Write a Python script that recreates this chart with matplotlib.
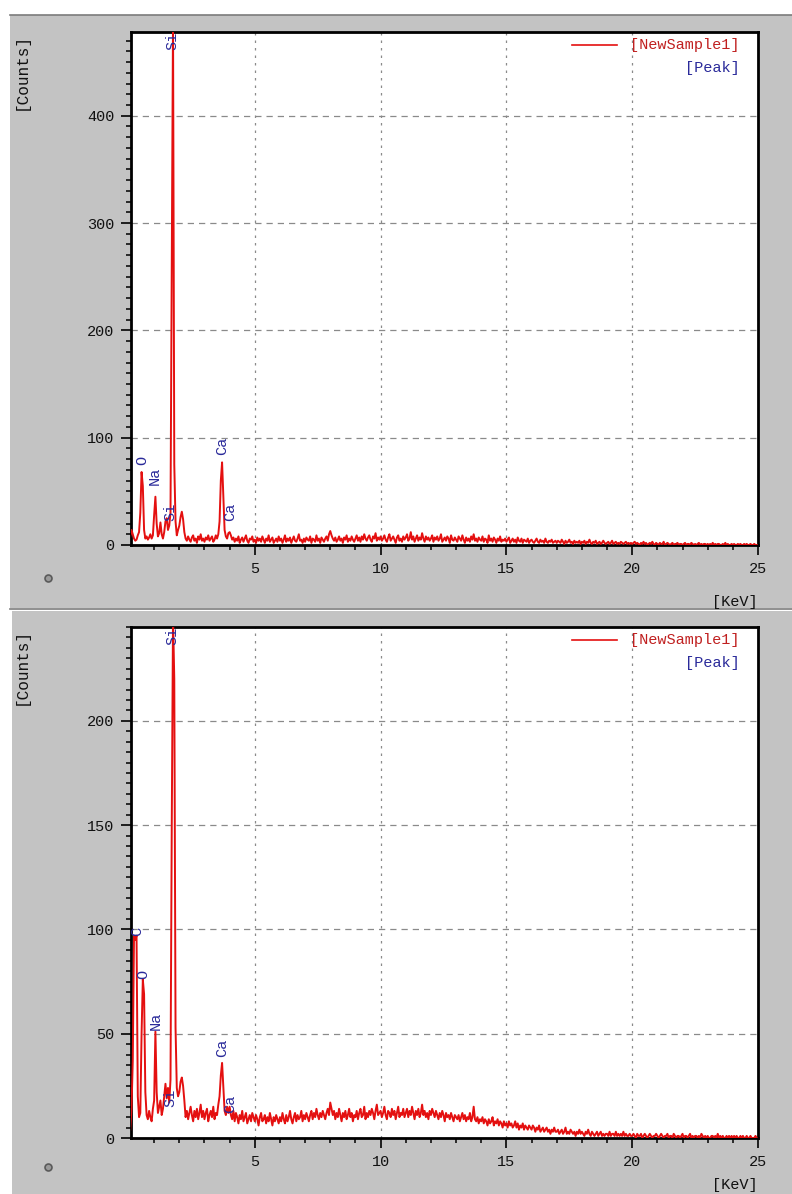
import numpy as np
import matplotlib
matplotlib.use("Agg")
import matplotlib.pyplot as plt
from matplotlib.patches import Rectangle
from matplotlib.lines import Line2D
from matplotlib.ticker import MultipleLocator

plt.rcParams['font.family'] = ['Liberation Mono', 'DejaVu Sans Mono']

CHANNEL_KEV = 0.05

# counts per 0.05 keV channel, one row per keV
top_counts = [
    0, 8, 14, 10, 6, 4, 5, 9, 12, 30, 68, 55, 14, 6, 8, 5, 7, 10, 6, 9,
    28, 45, 20, 8, 11, 21, 10, 6, 12, 22, 25, 14, 18, 30, 270, 490, 75, 22, 9, 14,
    18, 26, 31, 24, 12, 6, 4, 8, 5, 3, 7, 9, 4, 6, 2, 8, 5, 10, 4, 6,
    3, 7, 5, 9, 4, 6, 8, 3, 5, 9, 6, 10, 22, 60, 77, 45, 14, 8, 6, 11,
    12, 9, 5, 7, 3, 6, 4, 8, 2, 5, 7, 3, 6, 9, 4, 2, 6, 5, 8, 3,
    5, 2, 7, 4, 6, 3, 8, 5, 2, 6, 4, 9, 3, 5, 7, 2, 4, 6, 3, 8,
    4, 6, 2, 5, 9, 3, 6, 4, 7, 2, 5, 8, 4, 3, 6, 10, 4, 5, 2, 6,
    3, 7, 5, 4, 8, 2, 6, 5, 3, 9, 4, 6, 2, 7, 5, 3, 6, 8, 4, 10,
    13, 9, 6, 4, 7, 3, 5, 8, 4, 6, 2, 7, 5, 9, 3, 6, 4, 8, 5, 3,
    6, 9, 4, 7, 3, 8, 5, 10, 6, 4, 7, 9, 5, 3, 8, 6, 11, 4, 7, 5,
    8, 4, 6, 9, 5, 3, 7, 10, 4, 6, 8, 5, 2, 7, 9, 4, 6, 3, 8, 5,
    7, 10, 4, 6, 12, 5, 8, 3, 6, 9, 4, 7, 5, 11, 6, 3, 8, 5, 7, 4,
    6, 9, 3, 7, 5, 8, 4, 6, 10, 3, 5, 7, 4, 8, 6, 2, 9, 5, 4, 7,
    5, 3, 8, 6, 4, 9, 5, 2, 7, 4, 6, 3, 8, 5, 10, 4, 6, 3, 7, 5,
    4, 8, 3, 6, 5, 2, 9, 4, 6, 3, 7, 5, 2, 6, 4, 8, 3, 5, 4, 6,
    3, 5, 7, 2, 4, 6, 3, 5, 2, 7, 4, 3, 6, 2, 5, 4, 3, 6, 2, 4,
    5, 3, 2, 4, 6, 3, 2, 5, 3, 4, 2, 6, 3, 2, 4, 3, 5, 2, 3, 4,
    2, 4, 3, 2, 5, 3, 1, 4, 2, 3, 5, 2, 3, 1, 4, 2, 3, 2, 4, 1,
    3, 2, 4, 1, 3, 2, 5, 2, 1, 3, 2, 4, 1, 2, 3, 1, 2, 4, 2, 1,
    2, 3, 1, 2, 4, 1, 2, 3, 1, 2, 1, 3, 2, 1, 2, 3, 1, 2, 1, 2,
    1, 2, 3, 1, 2, 1, 0, 2, 1, 3, 1, 2, 0, 1, 2, 1, 3, 1, 0, 2,
    1, 0, 2, 1, 1, 3, 0, 1, 2, 1, 0, 1, 2, 0, 1, 1, 2, 0, 1, 1,
    0, 1, 2, 0, 1, 1, 0, 2, 1, 0, 1, 0, 1, 2, 0, 1, 0, 1, 1, 0,
    1, 0, 1, 0, 2, 0, 1, 0, 1, 1, 0, 0, 1, 0, 2, 0, 1, 0, 0, 1,
    0, 1, 0, 0, 1, 0, 1, 0, 0, 1, 0, 1, 0, 0, 1, 0, 0, 1, 0, 0,
]

bottom_counts = [
    0, 4, 14, 37, 97, 95, 97, 20, 10, 12, 50, 76, 69, 22, 11, 9, 13, 10, 8, 14,
    18, 51, 22, 12, 15, 18, 11, 14, 20, 26, 19, 24, 17, 28, 150, 250, 220, 53, 24, 20,
    22, 27, 29, 25, 18, 10, 13, 9, 12, 15, 11, 8, 13, 10, 14, 9, 12, 16, 10, 13,
    9, 12, 14, 8, 11, 13, 10, 15, 9, 12, 11, 16, 20, 30, 36, 24, 13, 11, 15, 12,
    15, 11, 9, 13, 8, 12, 10, 7, 11, 9, 13, 8, 10, 12, 7, 9, 11, 8, 12, 10,
    8, 11, 9, 6, 10, 12, 8, 9, 11, 7, 10, 8, 12, 9, 6, 10, 8, 11, 9, 7,
    10, 8, 12, 9, 7, 11, 8, 10, 13, 9, 7, 10, 12, 8, 11, 9, 10, 13, 8, 11,
    9, 12, 10, 8, 11, 13, 9, 12, 10, 14, 11, 9, 12, 10, 13, 11, 9, 12, 14, 11,
    17, 14, 11, 13, 9, 12, 10, 14, 11, 8, 12, 10, 13, 9, 11, 14, 10, 12, 8, 11,
    10, 13, 9, 12, 14, 10, 11, 15, 9, 12, 10, 13, 11, 14, 12, 9, 13, 16, 11, 12,
    13, 10, 12, 15, 11, 9, 13, 12, 10, 14, 11, 13, 9, 12, 15, 10, 12, 11, 14, 10,
    12, 14, 10, 13, 11, 15, 12, 9, 13, 11, 14, 10, 12, 16, 11, 13, 10, 12, 9, 13,
    11, 14, 12, 10, 13, 11, 9, 12, 10, 13, 11, 8, 12, 10, 11, 9, 12, 10, 8, 11,
    10, 9, 11, 8, 10, 12, 9, 11, 8, 10, 9, 12, 8, 10, 15, 9, 8, 10, 7, 9,
    8, 10, 7, 9, 8, 6, 9, 7, 8, 10, 6, 8, 7, 9, 6, 8, 7, 5, 8, 6,
    7, 5, 8, 6, 7, 5, 6, 8, 5, 7, 4, 6, 5, 7, 4, 6, 5, 4, 6, 5,
    4, 6, 5, 3, 5, 4, 6, 3, 4, 5, 3, 4, 5, 3, 4, 2, 4, 3, 5, 3,
    3, 4, 2, 3, 4, 2, 3, 5, 2, 3, 2, 4, 3, 2, 3, 1, 3, 2, 4, 2,
    3, 2, 1, 3, 2, 4, 2, 1, 3, 2, 1, 2, 3, 1, 2, 3, 1, 2, 1, 2,
    2, 1, 3, 1, 2, 2, 1, 3, 1, 2, 1, 2, 1, 3, 1, 2, 1, 1, 2, 1,
    1, 2, 1, 0, 2, 1, 1, 2, 0, 1, 2, 1, 0, 1, 2, 1, 0, 1, 1, 2,
    1, 0, 1, 2, 1, 0, 1, 1, 2, 0, 1, 1, 0, 2, 1, 0, 1, 1, 0, 1,
    2, 0, 1, 1, 0, 1, 2, 0, 1, 0, 1, 1, 0, 1, 0, 2, 1, 0, 1, 0,
    1, 0, 0, 1, 1, 0, 1, 0, 2, 0, 1, 0, 1, 0, 0, 1, 0, 1, 0, 1,
    0, 1, 0, 1, 0, 0, 1, 0, 1, 0, 0, 1, 0, 0, 1, 0, 0, 0, 1, 0,
]

# peak markers: element, energy (keV), label base (counts); None = pinned to top
top_peaks = ['O', 'Na', 'Si', 'Si', 'Ca', 'Ca']
top_peak_kev = [0.52, 1.04, 1.73, 1.66, 3.69, 4.01]
top_peak_y = [75, 56, None, 22, 84, 22]

bottom_peaks = ['C', 'O', 'Na', 'Si', 'Si', 'Ca', 'Ca']
bottom_peak_kev = [0.33, 0.55, 1.06, 1.73, 1.66, 3.69, 4.01]
bottom_peak_y = [97, 76, 52, None, 15, 39, 12]

W, H = 792, 1194
FS = 11
PANEL = '#c3c3c3'
RED = '#e41010'
BLUE = '#2a2a9a'


def fx(px):
    return px / W


def fy(py):
    return 1 - py / H


fig = plt.figure(figsize=(W / 100, H / 100), dpi=100, facecolor='white')

# grey window frames behind each chart
fig.patches.append(Rectangle((fx(10), fy(608)), 1 - fx(10), fy(15) - fy(608),
                             transform=fig.transFigure, facecolor=PANEL, edgecolor='none', zorder=-5))
fig.patches.append(Rectangle((fx(12), 0), 1 - fx(12), fy(611),
                             transform=fig.transFigure, facecolor=PANEL, edgecolor='none', zorder=-5))
for yline in (15, 609):
    fig.add_artist(Line2D([fx(10), 1], [fy(yline), fy(yline)], transform=fig.transFigure,
                          color='#7c7c7c', lw=1.2, zorder=-4))


def draw_panel(top_px, bottom_px, counts, ymax, ystep, yminor, names, kevs, label_y):
    ax = fig.add_axes([fx(131), fy(bottom_px), fx(758) - fx(131), fy(top_px) - fy(bottom_px)])
    ax.set_zorder(2)
    energy = np.arange(len(counts)) * CHANNEL_KEV
    ax.plot(energy, counts, color=RED, lw=1.4, zorder=3)
    ax.set_xlim(0.08, 25)
    ax.set_ylim(0, ymax)

    ax.xaxis.set_major_locator(MultipleLocator(5))
    ax.xaxis.set_minor_locator(MultipleLocator(1))
    ax.yaxis.set_major_locator(MultipleLocator(ystep))
    ax.yaxis.set_minor_locator(MultipleLocator(yminor))
    ax.tick_params(which='major', direction='out', length=7, width=1.3, pad=5,
                   labelsize=FS, colors='#111111')
    ax.tick_params(which='minor', direction='out', length=3.5, width=1.1)
    for s in ax.spines.values():
        s.set_linewidth(2)
        s.set_color('black')

    ax.grid(which='major', axis='y', color='#8a8a8a', lw=0.9, ls=(0, (5, 4)))
    ax.grid(which='major', axis='x', color='#8a8a8a', lw=0.9, ls=(0, (2, 4)))
    ax.set_axisbelow(True)

    for name, kev, yb in zip(names, kevs, label_y):
        if yb is None:
            ax.text(kev, ymax, name, rotation=90, ha='center', va='top',
                    color=BLUE, fontsize=FS, zorder=4)
        else:
            ax.text(kev, yb, name, rotation=90, ha='center', va='bottom',
                    color=BLUE, fontsize=FS, zorder=4)

    # legend block
    ax.add_line(Line2D([0.703, 0.775], [0.975, 0.975], transform=ax.transAxes,
                       color=RED, lw=1.2))
    ax.text(0.971, 0.975, '[NewSample1]', transform=ax.transAxes, ha='right',
            va='center', color='#c02020', fontsize=FS)
    ax.text(0.971, 0.93, '[Peak]', transform=ax.transAxes, ha='right',
            va='center', color=BLUE, fontsize=FS)

    fig.text(fx(21), fy(top_px + 1), '[Counts]', rotation=90, ha='center', va='top',
             fontsize=FS + 0.5, color='#111111')
    return ax


draw_panel(32, 545, top_counts, 478, 100, 10, top_peaks, top_peak_kev, top_peak_y)
draw_panel(627, 1138, bottom_counts, 245, 50, 5, bottom_peaks, bottom_peak_kev, bottom_peak_y)

for ypx in (602, 1185):
    fig.text(fx(758), fy(ypx), '[KeV]', ha='right', va='center', fontsize=FS, color='#111111')
for ypx in (578, 1167):
    fig.add_artist(Line2D([fx(48)], [fy(ypx)], transform=fig.transFigure, marker='o',
                          ms=5, mfc='#9a9a9a', mec='#5a5a5a', mew=1.2))

fig.savefig('out.png', dpi=100, facecolor='white')
